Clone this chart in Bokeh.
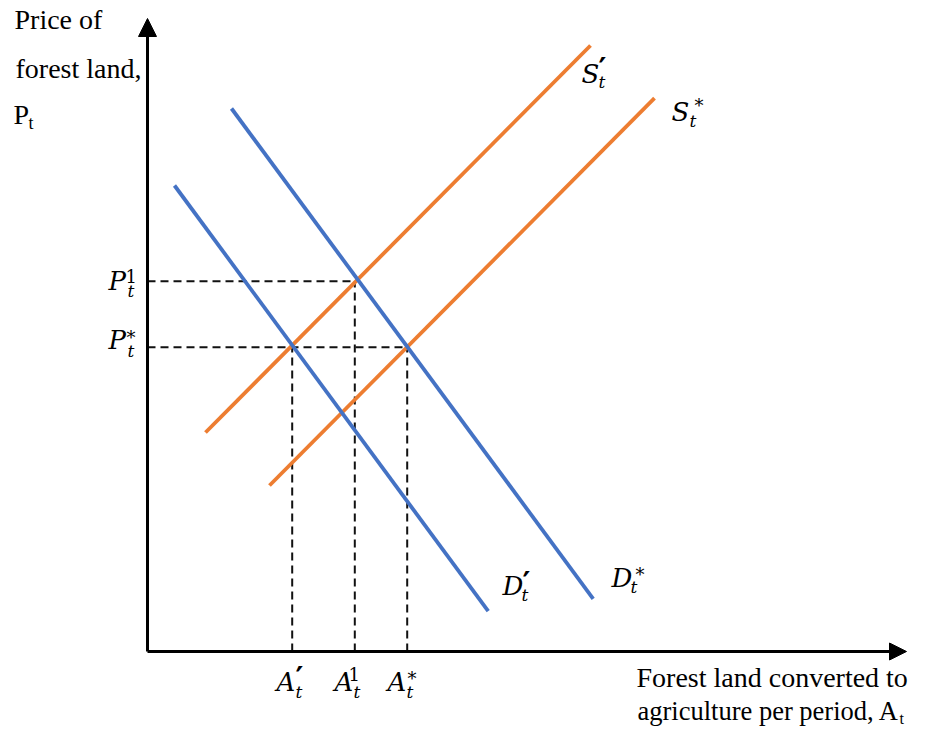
from bokeh.plotting import figure
from bokeh.models import Range1d, Label, Arrow, NormalHead
from bokeh.embed import file_html
from bokeh.resources import INLINE

# ---------------- data (quantity A_t on x, price P_t on y) ----------------
# demand curves
d_prime_x = [2.7, 34.07]
d_prime_y = [46.6, 4.03]
d_star_x = [8.4, 44.57]
d_star_y = [54.3, 5.27]
# supply curves
s_prime_x = [5.8, 44.3]
s_prime_y = [21.9, 60.6]
s_star_x = [12.2, 50.7]
s_star_y = [16.6, 55.33]
# equilibrium quantities  A'_t, A^1_t, A*_t and their prices
eq_quantities = [14.47, 20.73, 25.97]
eq_prices = [30.43, 37.03, 30.43]
# price levels  P^1_t, P*_t and how far the dashed guide runs
price_levels = [37.03, 30.43]
price_level_reach = [20.73, 25.97]
# axis extents
x_axis_end = 75.9
y_axis_end = 63.3

BLUE = "#4472C4"
ORANGE = "#ED7D31"

# figure pixel -> data helpers for text placement (1 data unit = 10 px)
def px(x):
    return (x - 147) / 10.0

def py(y):
    return (651 - y) / 10.0

p = figure(width=909, height=730, output_backend="svg", toolbar_location=None,
           x_range=Range1d(-14.7, 76.2), y_range=Range1d(-7.9, 65.1),
           min_border=0, min_border_left=0, min_border_right=0,
           min_border_top=0, min_border_bottom=0)
p.axis.visible = False
p.grid.visible = False
p.outline_line_color = None
p.background_fill_color = "white"
p.border_fill_color = "white"

# dashed guides
p.segment(x0=[0] * len(price_levels), y0=price_levels,
          x1=price_level_reach, y1=price_levels,
          line_color="#111111", line_width=2, line_dash="8 5")
p.segment(x0=eq_quantities, y0=[0] * len(eq_quantities),
          x1=eq_quantities, y1=eq_prices,
          line_color="#111111", line_width=2, line_dash="8 5")

# curves
p.line(s_prime_x, s_prime_y, line_color=ORANGE, line_width=3.8)
p.line(s_star_x, s_star_y, line_color=ORANGE, line_width=3.8)
p.line(d_prime_x, d_prime_y, line_color=BLUE, line_width=3.8)
p.line(d_star_x, d_star_y, line_color=BLUE, line_width=3.8)

# axes with arrows
p.add_layout(Arrow(end=NormalHead(size=17, fill_color="black", line_color="black"),
                   x_start=0, y_start=0, x_end=x_axis_end, y_end=0,
                   line_width=3, line_color="black"))
p.add_layout(Arrow(end=NormalHead(size=18, fill_color="black", line_color="black"),
                   x_start=0, y_start=0, x_end=0, y_end=y_axis_end,
                   line_width=3, line_color="black"))

K = 0.42  # baseline correction observed for Label rendering

def lab(text, x, y, size, font="DejaVu Serif", style="italic"):
    p.add_layout(Label(x=px(x), y=py(y - K * size), text=text, text_font=font,
                       text_font_size=f"{size}px", text_font_style=style,
                       text_baseline="alphabetic", text_align="left",
                       text_color="black"))

SERIF = "Liberation Serif"
# axis titles
lab("Price of", 14, 31, 28, SERIF, "normal")
lab("forest land,", 15, 80, 28, SERIF, "normal")
lab("P", 13, 126, 28, SERIF, "normal")
lab("t", 28, 130, 18, SERIF, "normal")
lab("Forest land converted to", 636, 689, 28, SERIF, "normal")
lab("agriculture per period, A", 637, 722, 26.5, SERIF, "normal")
lab("t", 899, 725, 16, SERIF, "normal")

MAIN = 26
SMALL = 17
def math(main, sup, mx, my, tx, ty, sx, sy):
    lab(main, mx, my, MAIN)
    lab("t", tx, ty, SMALL)
    if sup == "\u2032":
        lab(sup, sx, sy + 5, 30, "DejaVu Sans", "bold")
    else:
        lab(sup, sx, sy, SMALL + 1, "DejaVu Serif", "normal")

math("P", "1", 108, 291, 127, 298, 125, 283)
math("P", "*", 108, 350, 127, 358, 126, 345)
math("A", "\u2032", 276, 692, 295, 699, 295, 685)
math("A", "1", 334, 692, 353, 699, 348, 681)
math("A", "*", 387, 692, 406, 699, 407, 686)
math("S", "\u2032", 581, 84, 598, 89, 598, 76)
math("S", "*", 671, 122, 689, 128, 694, 113)
math("D", "\u2032", 502, 596, 521, 602, 522, 590)
math("D", "*", 611, 588, 630, 594, 635, 582)

open("out.html", "w").write(file_html(p, INLINE))
